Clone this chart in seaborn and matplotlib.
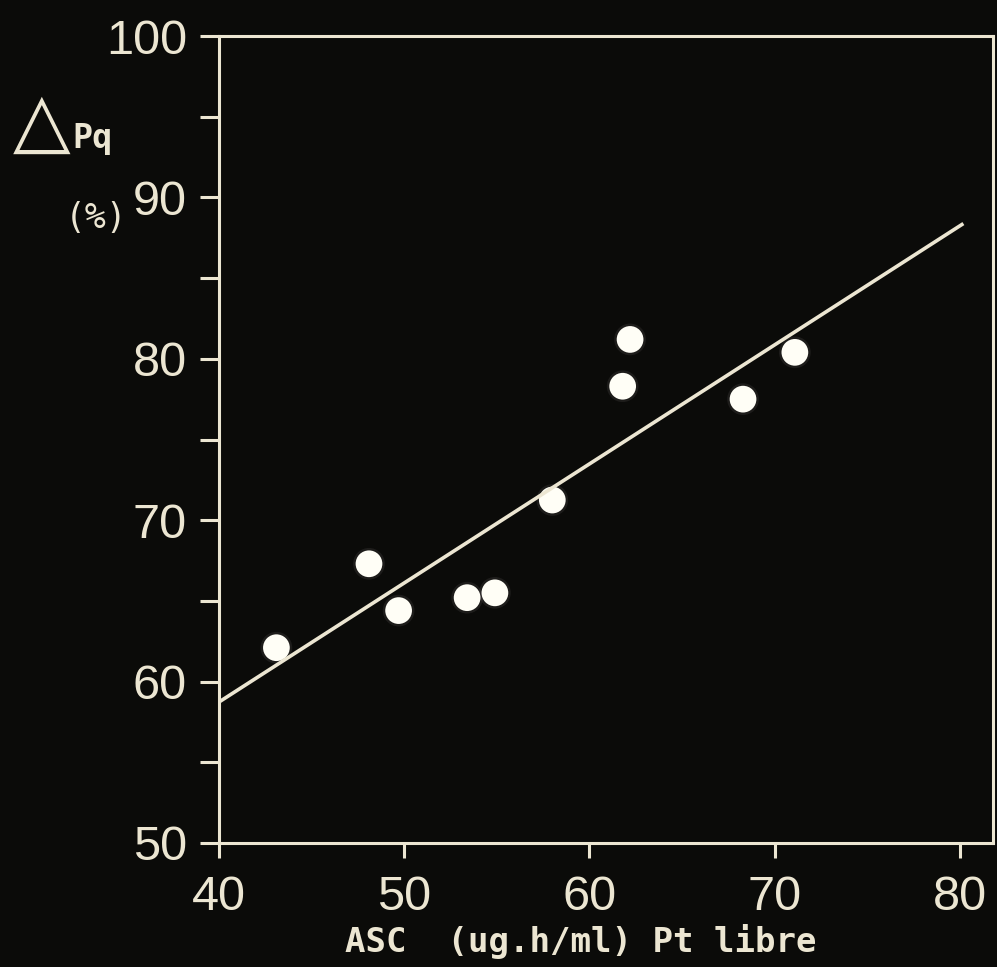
import numpy as np
import matplotlib
matplotlib.use('agg')
import matplotlib.pyplot as plt
import pandas as pd
import seaborn as sns

# values
asc = [43.1, 48.1, 49.7, 53.4, 54.9, 58.0, 61.8, 62.2, 68.3, 71.1]
delta_pq = [62.1, 67.3, 64.4, 65.2, 65.5, 71.25, 78.3, 81.2, 77.5, 80.4]
x_ticks = [40, 50, 60, 70, 80]
y_ticks = [50, 60, 70, 80, 90, 100]
y_minor = [55, 65, 75, 85, 95]

bg = '#0b0b09'
fg = '#ece6d2'

sns.set_theme(style='ticks')
plt.rcParams['font.family'] = ['Liberation Sans', 'DejaVu Sans']

df = pd.DataFrame({'asc': asc, 'dpq': delta_pq})

fig = plt.figure(figsize=(9.97, 9.67), dpi=100, facecolor=bg)
ax = fig.add_axes([219 / 997, 1 - 843 / 967, (993 - 219) / 997, (843 - 36) / 967])
ax.set_facecolor(bg)

# regression line drawn up to x=80.2, then the frame is widened
ax.set_xlim(40, 80.2)
ax.set_ylim(50, 100)
sns.regplot(data=df, x='asc', y='dpq', ax=ax, scatter=False, ci=None, truncate=False,
            line_kws={'color': fg, 'lw': 2.6, 'solid_capstyle': 'butt'})
ax.set_xlim(40, 81.8)

# faint glow then the dots
sns.scatterplot(data=df, x='asc', y='dpq', ax=ax, s=520, color='#f6e6ee', alpha=0.08,
                edgecolor='none', linewidth=0, legend=False)
sns.scatterplot(data=df, x='asc', y='dpq', ax=ax, s=370, color='#fffef6',
                edgecolor='none', linewidth=0, legend=False)

for side in ['left', 'right', 'top', 'bottom']:
    ax.spines[side].set_visible(True)
    ax.spines[side].set_color(fg)
    ax.spines[side].set_linewidth(2.2)

ax.set_xticks(x_ticks)
ax.set_yticks(y_ticks)
ax.set_yticks(y_minor, minor=True)
ax.tick_params(axis='y', which='both', direction='out', length=14, width=2.2, color=fg,
               labelcolor=fg, labelsize=35, pad=9)
ax.tick_params(axis='x', which='major', direction='out', length=11, width=2.2, color=fg,
               labelcolor=fg, labelsize=35, pad=12)

ax.set_xlabel('ASC  (ug.h/ml) Pt libre', family='DejaVu Sans Mono', fontsize=24.5,
              fontweight='bold', color=fg)
ax.xaxis.set_label_coords(0.468, -0.1)
ax.set_ylabel('')

fig.text(42 / 997, 1 - 124 / 967, '\u25b3', family='DejaVu Sans', fontsize=54, color=fg,
         ha='center', va='center')
fig.text(72 / 997, 1 - 148 / 967, 'Pq', family='DejaVu Sans Mono', fontsize=24,
         fontweight='bold', color=fg, ha='left', va='baseline')
fig.text(96 / 997, 1 - 218 / 967, '(%)', family='DejaVu Sans Mono', fontsize=25,
         color=fg, ha='center', va='center')

fig.savefig('out.png', dpi=100, facecolor=bg)
